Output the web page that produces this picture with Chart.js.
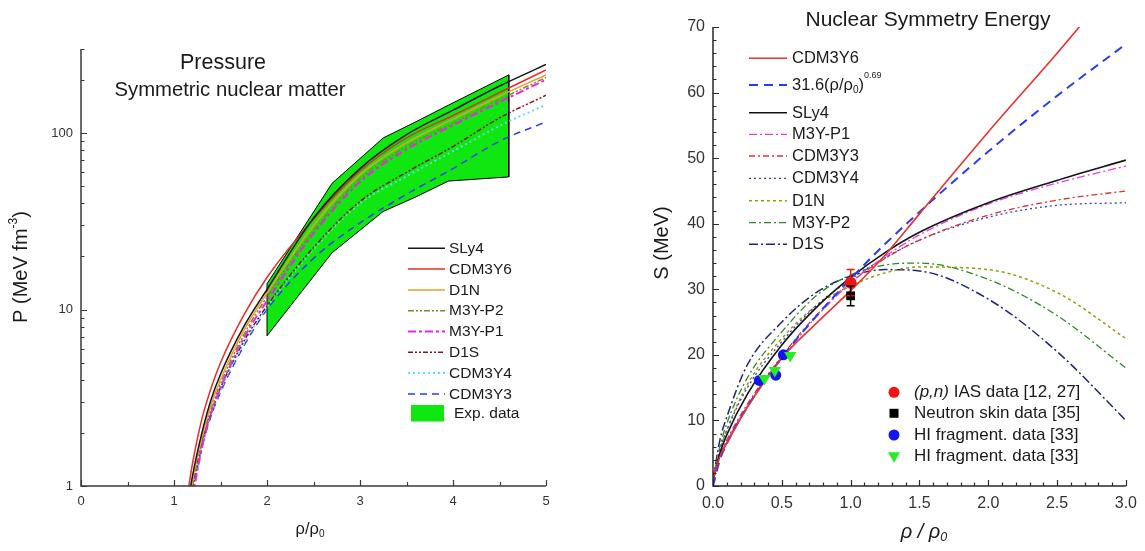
<!DOCTYPE html>
<html><head><meta charset="utf-8">
<script src="https://cdn.jsdelivr.net/npm/chart.js@4.4.1/dist/chart.umd.min.js"></script>
<style>
html,body{margin:0;padding:0;background:#fff;width:1145px;height:551px;overflow:hidden}
#c1{position:absolute;left:0;top:0}
#c2{position:absolute;left:570px;top:0}
</style></head><body>
<canvas id="c1" width="570" height="551"></canvas>
<canvas id="c2" width="575" height="551"></canvas>
<script>
// ---------------- LEFT PANEL DATA (pressure, symmetric nuclear matter) ----------------
const pX       = [1.15, 1.2, 1.3, 1.4, 1.5, 1.75, 2, 2.5, 3, 3.5, 4, 4.5, 5];
const pSLy4    = [0.8, 1.15, 2.0, 3.1, 4.3, 8.0, 13.0, 33, 63, 98, 135, 185, 245];
const pCDM3Y6  = [0.93, 1.35, 2.4, 3.6, 5.0, 9.3, 15.2, 32.5, 61, 94, 126, 170, 228];
const pD1N     = [0.72, 1.08, 1.9, 2.9, 4.0, 7.6, 12.4, 30, 58, 88, 120, 162, 214];
const pM3YP2   = [0.65, 1.0, 1.8, 2.75, 3.8, 7.2, 11.8, 28, 55, 84, 114, 155, 207];
const pM3YP1   = [0.55, 0.85, 1.65, 2.6, 3.6, 6.9, 11.2, 27, 53, 81, 111, 150, 201];
const pD1S     = [0.62, 0.95, 1.75, 2.6, 3.6, 6.6, 10.5, 22.5, 41, 60, 84, 122, 164];
const pCDM3Y4  = [0.6, 0.92, 1.7, 2.55, 3.5, 6.4, 10.3, 22, 40, 57, 79, 110, 145];
const pCDM3Y3  = [0.58, 0.9, 1.65, 2.5, 3.4, 6.2, 10.0, 19.5, 31, 45, 63, 90, 116];
// experimental band
const expX     = [2.0, 2.7, 3.25, 3.6, 3.95, 4.6];
const expHigh  = [14, 52, 94, 116, 144, 214];
const expLow   = [7.1, 21, 36, 43.5, 53.5, 56.5];
// ticks
const pXTicks      = [0, 1, 2, 3, 4, 5];
const pXMinorTicks = [0.5, 1.5, 2.5, 3.5, 4.5];
const pYTicks      = [1, 10, 100];
const pYMinorTicks = [2,3,4,5,6,7,8,9,20,30,40,50,60,70,80,90,200,300];

// ---------------- RIGHT PANEL DATA (symmetry energy) ----------------
const sX       = [0, 0.05, 0.1, 0.25, 0.5, 0.75, 1, 1.25, 1.5, 2, 2.5, 3];
const sCDM3Y6  = [1, 4.5, 6.5, 12, 19.5, 24.8, 29.8, 35.2, 41.5, 54, 66, 78.5];
const sFit     = [0, 4.0, 6.45, 12.1, 19.6, 25.9, 31.6, 36.9, 41.8, 51.0, 59.5, 67.4];
const sSLy4    = [0.8, 5, 7.8, 14, 21.5, 27.2, 31.8, 35.6, 38.7, 43.2, 46.6, 49.7];
const sM3YP1   = [0.8, 4.5, 6.8, 12.2, 19.5, 25.8, 31, 35, 38.3, 43, 46.2, 48.8];
const sCDM3Y3  = [0.8, 4.6, 7, 12.5, 19.8, 26, 31, 34.7, 37.5, 41.3, 43.6, 45];
const sCDM3Y4  = [0.8, 5.5, 8.5, 15, 22, 27.5, 31.5, 34.8, 37.5, 41, 42.8, 43.2];
const sD1N     = [0.8, 5.5, 8.5, 15.5, 22.5, 27.5, 30.5, 32.5, 33.4, 33, 29.5, 22.5];
const sM3YP2   = [0.8, 6, 9.5, 16.5, 23.5, 29, 32.2, 33.7, 34, 31.5, 26, 18];
const sD1S     = [0.8, 7, 10.5, 18.5, 25, 29.5, 32, 33, 32.8, 28.5, 20.5, 10];
// measured points
const iasX = [1.0],  iasY = [31],  iasErr = [2];
const skinX = [1.0], skinY = [29], skinErr = [1.5];
const hiCircX = [0.337, 0.456, 0.511], hiCircY = [16.1, 16.9, 20.0];
const hiTriX  = [0.374, 0.449, 0.561], hiTriY  = [16.4, 17.6, 19.9];
// ticks
const sXTicks      = [0, 0.5, 1, 1.5, 2, 2.5, 3];
const sXMinorTicks = [0.1,0.2,0.3,0.4,0.6,0.7,0.8,0.9,1.1,1.2,1.3,1.4,1.6,1.7,1.8,1.9,2.1,2.2,2.3,2.4,2.6,2.7,2.8,2.9];
const sYTicks      = [0, 10, 20, 30, 40, 50, 60, 70];
const sYMinorTicks = [2,4,6,8,12,14,16,18,22,24,26,28,32,34,36,38,42,44,46,48,52,54,56,58,62,64,66,68];

// ---------------- helpers ----------------
const FONT = '"Liberation Sans", Arial, Helvetica, sans-serif';
const pts = (xs, ys) => xs.map((x, i) => ({x: x, y: ys[i]}));

function drawRich(ctx, parts, x, y, align) {
  let w = 0;
  parts.forEach(p => { ctx.font = (p.style || '') + ' ' + p.size + 'px ' + FONT; p.w = ctx.measureText(p.t).width; w += p.w; });
  let cx = align === 'center' ? x - w / 2 : (align === 'right' ? x - w : x);
  ctx.textBaseline = 'middle'; ctx.textAlign = 'left';
  parts.forEach(p => { ctx.font = (p.style || '') + ' ' + p.size + 'px ' + FONT; ctx.fillText(p.t, cx, y + (p.dy || 0)); cx += p.w; });
}
function tickMarks(ctx, scale, values, len, horizontal, a) {
  ctx.beginPath();
  values.forEach(v => {
    const p = Math.round(scale.getPixelForValue(v)) + 0.5;
    if (horizontal) { ctx.moveTo(p, a.bottom); ctx.lineTo(p, a.bottom - len); }
    else { ctx.moveTo(a.left, p); ctx.lineTo(a.left + len, p); }
  });
  ctx.stroke();
}
function legendLine(ctx, ds, x1, x2, y) {
  ctx.save();
  ctx.strokeStyle = ds.borderColor; ctx.lineWidth = ds.borderWidth; ctx.setLineDash(ds.borderDash || []);
  ctx.beginPath(); ctx.moveTo(x1, y); ctx.lineTo(x2, y); ctx.stroke();
  ctx.restore();
}
function lineDs(label, xs, ys, color, dash, width) {
  return {label: label, data: pts(xs, ys), borderColor: color, borderDash: dash, borderWidth: width,
          pointRadius: 0, fill: false, cubicInterpolationMode: 'monotone'};
}

// ---------------- LEFT CHART ----------------
const leftLines = [
  lineDs('SLy4',    pX, pSLy4,   '#141414', [], 1.5),
  lineDs('CDM3Y6',  pX, pCDM3Y6, '#e0302a', [], 1.5),
  lineDs('D1N',     pX, pD1N,    '#ee9a30', [], 1.5),
  lineDs('M3Y-P2',  pX, pM3YP2,  '#7a8a20', [6,2,2,2,2,2], 1.5),
  lineDs('M3Y-P1',  pX, pM3YP1,  '#ee22ee', [8,3,3,3], 2),
  lineDs('D1S',     pX, pD1S,    '#801818', [5,2,2,2,2,2], 1.5),
  lineDs('CDM3Y4',  pX, pCDM3Y4, '#5ee0e8', [2,3], 2),
  lineDs('CDM3Y3',  pX, pCDM3Y3, '#2a3cf0', [7,5], 1.5)
];
const expPoly = pts(expX, expHigh).concat(pts(expX.slice().reverse(), expLow.slice().reverse()));
expPoly.push({x: expX[0], y: expHigh[0]});
const expDs = {label: 'Exp. data', data: expPoly, borderColor: '#000', borderWidth: 1, backgroundColor: '#10e610',
               fill: 'shape', pointRadius: 0, tension: 0, borderDash: []};

const leftDecor = {
  id: 'leftDecor',
  afterDraw(chart) {
    const ctx = chart.ctx, a = chart.chartArea, xs = chart.scales.x, ys = chart.scales.y;
    ctx.save();
    ctx.strokeStyle = '#3a3a3a'; ctx.lineWidth = 1.5; ctx.setLineDash([]);
    ctx.beginPath(); ctx.moveTo(a.left, a.top); ctx.lineTo(a.left, a.bottom); ctx.lineTo(a.right, a.bottom); ctx.stroke();
    ctx.lineWidth = 1.2;
    tickMarks(ctx, xs, pXTicks, 6, true, a);
    tickMarks(ctx, xs, pXMinorTicks, 4, true, a);
    tickMarks(ctx, ys, pYTicks, 6, false, a);
    tickMarks(ctx, ys, pYMinorTicks, 3.5, false, a);
    // titles
    ctx.fillStyle = '#1a1a1a';
    drawRich(ctx, [{t: 'Pressure', size: 21.5}], 223, 63, 'center');
    drawRich(ctx, [{t: 'Symmetric nuclear matter', size: 20.3}], 230, 90.5, 'center');
    // axis titles
    drawRich(ctx, [{t: 'ρ/ρ', size: 16.5}, {t: '0', size: 10, dy: 5}], 310, 529, 'center');
    ctx.save(); ctx.translate(21.5, 267); ctx.rotate(-Math.PI / 2);
    drawRich(ctx, [{t: 'P (MeV fm', size: 20}, {t: '-3', size: 12, dy: -8}, {t: ')', size: 20}], 0, 0, 'center');
    ctx.restore();
    // legend
    const ly = [248.3, 269.1, 289.9, 310.7, 331.5, 352.3, 373.1, 393.9];
    leftLines.forEach((ds, i) => {
      legendLine(ctx, ds, 408, 445, ly[i]);
      ctx.fillStyle = '#1a1a1a';
      drawRich(ctx, [{t: ds.label, size: 15.5}], 449, ly[i] + 0.5, 'left');
    });
    ctx.fillStyle = expDs.backgroundColor;
    ctx.fillRect(411, 405, 33, 16.5);
    ctx.fillStyle = '#1a1a1a';
    drawRich(ctx, [{t: expDs.label, size: 15.5}], 454, 413.8, 'left');
    ctx.restore();
  }
};

new Chart(document.getElementById('c1'), {
  type: 'line',
  data: {datasets: leftLines.concat([expDs])},
  options: {
    responsive: false, animation: false, events: [],
    layout: {padding: {left: 0, right: 24, top: 49, bottom: 0}},
    plugins: {legend: {display: false}, tooltip: {enabled: false}, title: {display: false}},
    scales: {
      x: {type: 'linear', min: 0, max: 5,
          afterBuildTicks: s => { s.ticks = pXTicks.map(v => ({value: v})); },
          afterFit: s => { s.height = 65; },
          grid: {display: false, drawTicks: false}, border: {display: false},
          ticks: {autoSkip: false, maxRotation: 0, padding: 8, color: '#333', font: {family: FONT, size: 13},
                  callback: v => String(v)}},
      y: {type: 'logarithmic', min: 1, max: 300,
          afterBuildTicks: s => { s.ticks = pYTicks.map(v => ({value: v})); },
          afterFit: s => { s.width = 81; },
          grid: {display: false, drawTicks: false}, border: {display: false},
          ticks: {autoSkip: false, padding: 8, color: '#333', font: {family: FONT, size: 13},
                  callback: v => String(v)}}
    }
  },
  plugins: [leftDecor]
});

// ---------------- RIGHT CHART ----------------
const rightLines = [
  lineDs('CDM3Y6', sX, sCDM3Y6, '#e8322e', [], 1.6),
  lineDs('FIT',    sX, sFit,    '#2a3cf0', [9,6], 2),
  lineDs('SLy4',   sX, sSLy4,   '#141414', [], 1.6),
  lineDs('M3Y-P1', sX, sM3YP1,  '#e040e0', [8,3,2,3], 1.3),
  lineDs('CDM3Y3', sX, sCDM3Y3, '#e03030', [6,3,2,3], 1.3),
  lineDs('CDM3Y4', sX, sCDM3Y4, '#3b3bd8', [2,3], 1.3),
  lineDs('D1N',    sX, sD1N,    '#9a9a10', [3,3], 1.5),
  lineDs('M3Y-P2', sX, sM3YP2,  '#2a8a2a', [7,3,2,3], 1.3),
  lineDs('D1S',    sX, sD1S,    '#23237a', [9,3,2,3], 1.5)
];
const markerDs = [
  {label: 'ias',  data: pts(iasX, iasY),   showLine: false, pointStyle: 'circle', pointRadius: 6, backgroundColor: '#ee1414', borderColor: '#ee1414', borderWidth: 0},
  {label: 'skin', data: pts(skinX, skinY), showLine: false, pointStyle: 'rect', pointRadius: 6.2, backgroundColor: '#000', borderColor: '#000', borderWidth: 0},
  {label: 'hiT',  data: pts(hiTriX, hiTriY), showLine: false, pointStyle: 'triangle', pointRotation: 180, pointRadius: 7, backgroundColor: '#22ee22', borderColor: '#22ee22', borderWidth: 0},
  {label: 'hiC',  data: pts(hiCircX, hiCircY), showLine: false, pointStyle: 'circle', pointRadius: 5.5, backgroundColor: '#1414ee', borderColor: '#1414ee', borderWidth: 0}
];

function marker(ctx, kind, x, y, color) {
  ctx.fillStyle = color; ctx.beginPath();
  if (kind === 'circle') ctx.arc(x, y, 5.5, 0, Math.PI * 2);
  else if (kind === 'rect') ctx.rect(x - 4.5, y - 4.5, 9, 9);
  else { ctx.moveTo(x - 6, y - 4.5); ctx.lineTo(x + 6, y - 4.5); ctx.lineTo(x, y + 6); ctx.closePath(); }
  ctx.fill();
}

const rightDecor = {
  id: 'rightDecor',
  afterDatasetsDraw(chart) {
    const ctx = chart.ctx, xs = chart.scales.x, ys = chart.scales.y;
    ctx.save(); ctx.setLineDash([]); ctx.lineWidth = 1.5;
    const bars = [[iasX, iasY, iasErr, '#ee1414'], [skinX, skinY, skinErr, '#000']];
    bars.forEach(b => {
      b[0].forEach((x, i) => {
        const px = xs.getPixelForValue(x), t = ys.getPixelForValue(b[1][i] + b[2][i]), bo = ys.getPixelForValue(b[1][i] - b[2][i]);
        ctx.strokeStyle = b[3]; ctx.beginPath();
        ctx.moveTo(px, t); ctx.lineTo(px, bo);
        ctx.moveTo(px - 4, t); ctx.lineTo(px + 4, t);
        ctx.moveTo(px - 4, bo); ctx.lineTo(px + 4, bo);
        ctx.stroke();
      });
    });
    ctx.restore();
  },
  afterDraw(chart) {
    const ctx = chart.ctx, a = chart.chartArea, xs = chart.scales.x, ys = chart.scales.y;
    ctx.save();
    ctx.strokeStyle = '#2a2a2a'; ctx.lineWidth = 1.5; ctx.setLineDash([]);
    ctx.beginPath(); ctx.moveTo(a.left, a.top); ctx.lineTo(a.left, a.bottom); ctx.lineTo(a.right, a.bottom); ctx.stroke();
    ctx.lineWidth = 1.2;
    tickMarks(ctx, xs, sXTicks, 6, true, a);
    tickMarks(ctx, xs, sXMinorTicks, 3.5, true, a);
    tickMarks(ctx, ys, sYTicks, 6, false, a);
    tickMarks(ctx, ys, sYMinorTicks, 3.5, false, a);
    ctx.fillStyle = '#1a1a1a';
    drawRich(ctx, [{t: 'Nuclear Symmetry Energy', size: 21}], 358, 20.5, 'center');
    drawRich(ctx, [{t: 'ρ / ρ', size: 20, style: 'italic'}, {t: '0', size: 12.5, dy: 6, style: 'italic'}], 354, 532, 'center');
    ctx.save(); ctx.translate(92.5, 243); ctx.rotate(-Math.PI / 2);
    drawRich(ctx, [{t: 'S (MeV)', size: 20}], 0, 0, 'center');
    ctx.restore();
    // line legend
    const ly = [58.3, 85, 112.7, 134.3, 156, 178.3, 200.7, 222.7, 244.3];
    rightLines.forEach((ds, i) => {
      legendLine(ctx, ds, 179, 217, ly[i]);
      ctx.fillStyle = '#1a1a1a';
      if (ds.label === 'FIT') {
        drawRich(ctx, [{t: '31.6(ρ/ρ', size: 16.5}, {t: '0', size: 10, dy: 5}, {t: ')', size: 16.5}, {t: '0.69', size: 9, dy: -10}], 222, ly[i] + 0.5, 'left');
      } else {
        drawRich(ctx, [{t: ds.label, size: 16.5}], 222, ly[i] + 0.5, 'left');
      }
    });
    // marker legend
    const my = [392.3, 413.3, 435, 456.7];
    marker(ctx, 'circle', 324, my[0], '#ee1414');
    marker(ctx, 'rect', 324, my[1], '#000');
    marker(ctx, 'circle', 324, my[2], '#1414ee');
    marker(ctx, 'tri', 324, my[3], '#22ee22');
    ctx.fillStyle = '#1a1a1a';
    drawRich(ctx, [{t: '(p,n)', size: 17, style: 'italic'}, {t: ' IAS data [12, 27]', size: 17}], 344, my[0], 'left');
    drawRich(ctx, [{t: 'Neutron skin data [35]', size: 17}], 344, my[1], 'left');
    drawRich(ctx, [{t: 'HI fragment. data [33]', size: 17}], 344, my[2], 'left');
    drawRich(ctx, [{t: 'HI fragment. data [33]', size: 17}], 344, my[3], 'left');
    ctx.restore();
  }
};

new Chart(document.getElementById('c2'), {
  type: 'line',
  data: {datasets: markerDs.concat(rightLines)},
  options: {
    responsive: false, animation: false, events: [],
    layout: {padding: {left: 0, right: 14, top: 27, bottom: 0}},
    plugins: {legend: {display: false}, tooltip: {enabled: false}, title: {display: false}},
    scales: {
      x: {type: 'linear', min: 0, max: 3,
          afterBuildTicks: s => { s.ticks = sXTicks.map(v => ({value: v})); },
          afterFit: s => { s.height = 65; },
          grid: {display: false, drawTicks: false}, border: {display: false},
          ticks: {autoSkip: false, maxRotation: 0, padding: 8, color: '#333', font: {family: FONT, size: 16},
                  callback: v => Number(v).toFixed(1)}},
      y: {type: 'linear', min: 0, max: 70,
          afterBuildTicks: s => { s.ticks = sYTicks.map(v => ({value: v})); },
          afterFit: s => { s.width = 143; },
          grid: {display: false, drawTicks: false}, border: {display: false},
          ticks: {autoSkip: false, padding: 8, color: '#333', font: {family: FONT, size: 16},
                  callback: v => String(v)}}
    }
  },
  plugins: [rightDecor]
});
</script>
</body></html>
